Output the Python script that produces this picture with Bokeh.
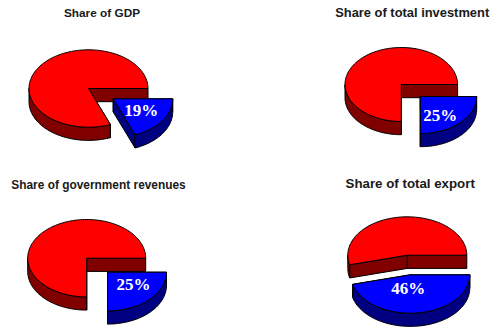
import math
from bokeh.plotting import figure
from bokeh.models import Range1d
from bokeh.core.properties import value
from bokeh.embed import file_html
from bokeh.resources import INLINE

# Chart content
titles = ["Share of GDP", "Share of total investment",
          "Share of government revenues", "Share of total export"]
shares = [19, 25, 25, 46]

# Layout of each exploded pie, in page pixels
centers = [(88.0, 88.0), (400.8, 84.0), (86.2, 257.7), (406.8, 254.7)]
radii = [(59.5, 38.7), (56.3, 37.0), (59.0, 38.7), (59.5, 38.4)]
offsets = [(24.7, 10.3), (19.0, 12.0), (20.8, 14.0), (3.0, 19.6)]
label_pos = [(140.7, 109.8), (439.7, 115.0), (133.0, 284.2), (407.7, 288.3)]
title_pos = [(101.5, 12.5), (411.7, 11.7), (98.0, 184.5), (409.7, 183.0)]
title_px = [11.8, 12.9, 11.9, 13.3]
DEPTH = 13.2

RED, DARK_RED = "#ff0000", "#800000"
BLUE, DARK_BLUE = "#0000ff", "#000080"

p = figure(width=496, height=327, output_backend="svg", toolbar_location=None,
           x_range=Range1d(0, 496), y_range=Range1d(327, 0),
           x_axis_location=None, y_axis_location=None, min_border=0)
p.xgrid.visible = False
p.ygrid.visible = False
p.outline_line_color = None
p.background_fill_color = "white"


def rim(cx, cy, rx, ry, a0, a1):
    """Points of the ellipse from a0 to a1 degrees, clockwise on the page."""
    n = max(2, int(abs(a1 - a0) / 2) + 1)
    angles = [math.radians(a0 + (a1 - a0) * i / (n - 1)) for i in range(n)]
    return [(cx + rx * math.cos(a), cy + ry * math.sin(a)) for a in angles]


def patch(points, fill):
    xs, ys = zip(*points)
    p.patch(list(xs), list(ys), fill_color=fill, line_color="black", line_width=1)


def sector(cx, cy, rx, ry, a0, a1, top, side):
    """One 3D wedge: cut faces, then the visible outer wall, then the top."""
    for a in (a0, a1):
        edge = rim(cx, cy, rx, ry, a, a)[0]
        patch([(cx, cy), edge, (edge[0], edge[1] + DEPTH), (cx, cy + DEPTH)], side)
    w0, w1 = max(a0, 0), min(a1, 180)
    if w1 > w0:
        arc = rim(cx, cy, rx, ry, w0, w1)
        patch(arc + [(x, y + DEPTH) for x, y in reversed(arc)], side)
    patch([(cx, cy)] + rim(cx, cy, rx, ry, a0, a1), top)


for i, share in enumerate(shares):
    cx, cy = centers[i]
    rx, ry = radii[i]
    dx, dy = offsets[i]
    sweep = share * 3.6
    sector(cx, cy, rx, ry, sweep, 360, RED, DARK_RED)
    sector(cx + dx, cy + dy, rx, ry, 0, sweep, BLUE, DARK_BLUE)
    p.text([label_pos[i][0]], [label_pos[i][1]], text=[f"{share}%"],
           text_font=value("Liberation Serif"), text_font_style="bold",
           text_font_size="17px", text_color="white",
           text_align="center", text_baseline="middle")
    p.text([title_pos[i][0]], [title_pos[i][1]], text=[titles[i]],
           text_font=value("Liberation Sans"), text_font_style="bold",
           text_font_size=f"{title_px[i]}px", text_color="#1a1a1a",
           text_align="center", text_baseline="middle")

open("out.html", "w").write(file_html(p, INLINE))
